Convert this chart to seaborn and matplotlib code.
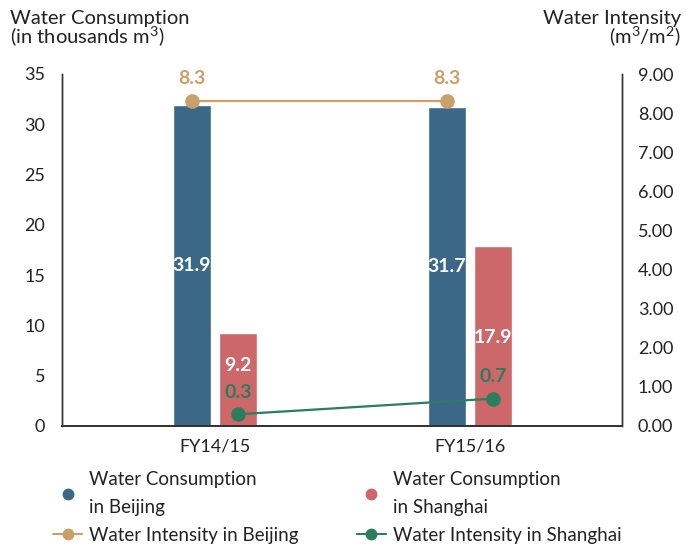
import matplotlib
matplotlib.use("Agg")
import matplotlib.pyplot as plt
import seaborn as sns
import pandas as pd
from matplotlib.lines import Line2D

# ---- data ----
years = ["FY14/15", "FY15/16"]
consumption_beijing = [31.9, 31.7]
consumption_shanghai = [9.2, 17.9]
intensity_beijing = [8.3, 8.3]
intensity_shanghai = [0.3, 0.7]
left_ticks = [0, 5, 10, 15, 20, 25, 30, 35]
right_ticks = [0, 1, 2, 3, 4, 5, 6, 7, 8, 9]

C_BJ = "#3C6887"
C_SH = "#CC676A"
C_GOLD = "#C9A068"
C_GREEN = "#2B7D5D"
FONT = ["Lato", "DejaVu Sans"]
TXT = "#222222"

sns.set_style("white")
plt.rcParams["font.family"] = FONT
plt.rcParams["mathtext.fontset"] = "custom"
plt.rcParams["mathtext.rm"] = "Lato"
plt.rcParams["mathtext.it"] = "Lato"
plt.rcParams["mathtext.default"] = "rm"

df = pd.DataFrame({
    "year": years * 2,
    "city": ["Beijing"] * 2 + ["Shanghai"] * 2,
    "value": consumption_beijing + consumption_shanghai,
})

fig = plt.figure(figsize=(6.91, 5.44), dpi=100)
ax = fig.add_axes([62 / 691, 118 / 544, 560 / 691, 352 / 544])

sns.barplot(data=df, x="year", y="value", hue="city", order=years,
            hue_order=["Beijing", "Shanghai"], palette=[C_BJ, C_SH],
            width=0.36, gap=0.17, dodge=True, legend=False, ax=ax,
            saturation=1)
ax.set_xlim(-0.6, 1.596)
ax.set_ylim(0, 35)
ax.set_yticks(left_ticks)
ax.set_yticklabels([str(t) for t in left_ticks])
ax.set_xlabel("")
ax.set_ylabel("")
ax.tick_params(axis="y", length=0, pad=12, labelsize=13, colors=TXT)
ax.tick_params(axis="x", length=0, pad=9, labelsize=13, colors=TXT)
ax.spines["top"].set_visible(False)
for s in ["left", "right", "bottom"]:
    ax.spines[s].set_color("#333333")
    ax.spines[s].set_linewidth(1.0)
ax.spines["bottom"].set_linewidth(1.3)

off = 0.09
# bar value labels
bj_label_y = [v / 2 for v in consumption_beijing]
sh_label_y = [6.0, 8.8]
for i in range(2):
    ax.text(i - off, bj_label_y[i], f"{consumption_beijing[i]:.1f}", color="white",
            ha="center", va="center", fontsize=14, fontweight="bold")
    ax.text(i + off, sh_label_y[i], f"{consumption_shanghai[i]:.1f}", color="white",
            ha="center", va="center", fontsize=14, fontweight="bold")

ax2 = ax.twinx()
x_bj = [i - off for i in range(len(years))]
x_sh = [i + off for i in range(len(years))]
sns.lineplot(x=x_bj, y=intensity_beijing, ax=ax2, color=C_GOLD, lw=1.6,
             marker="o", markersize=10.5, markeredgewidth=0, legend=False)
sns.lineplot(x=x_sh, y=intensity_shanghai, ax=ax2, color=C_GREEN, lw=1.6,
             marker="o", markersize=10.5, markeredgewidth=0, legend=False)
ax2.set_ylim(0, 9)
ax2.set_xlim(-0.6, 1.596)
ax2.set_yticks(right_ticks)
ax2.set_yticklabels([f"{t:.2f}" for t in right_ticks])
ax2.tick_params(axis="y", length=0, pad=11.5, labelsize=13, colors=TXT)
ax2.spines["top"].set_visible(False)
for s in ["left", "right", "bottom"]:
    ax2.spines[s].set_color("#333333")
    ax2.spines[s].set_linewidth(1.0)
ax2.spines["bottom"].set_linewidth(1.3)

for i in range(2):
    ax2.annotate(f"{intensity_beijing[i]:.1f}", (x_bj[i], intensity_beijing[i]),
                 xytext=(0, 16.5), textcoords="offset points", ha="center", va="center",
                 color=C_GOLD, fontsize=14, fontweight="bold")
    ax2.annotate(f"{intensity_shanghai[i]:.1f}", (x_sh[i], intensity_shanghai[i]),
                 xytext=(0, 16), textcoords="offset points", ha="center", va="center",
                 color=C_GREEN, fontsize=14, fontweight="bold")

# axis titles
fig.text(10 / 691, 1 - 10 / 544, "Water Consumption\n(in thousands m$^3$)", ha="left",
         va="top", fontsize=14.5, color=TXT, linespacing=0.87)
fig.text(1 - 10 / 691, 1 - 10 / 544, "Water Intensity\n(m$^3$/m$^2$)", ha="right",
         va="top", fontsize=14.5, color=TXT, linespacing=0.87, multialignment="right")

handles = [
    Line2D([], [], ls="none", marker="o", color=C_BJ, markersize=7.5),
    Line2D([], [], color=C_GOLD, marker="o", markersize=7.5, lw=1.5),
    Line2D([], [], ls="none", marker="o", color=C_SH, markersize=7.5),
    Line2D([], [], color=C_GREEN, marker="o", markersize=7.5, lw=1.5),
]
labels = ["Water Consumption\nin Beijing", "Water Intensity in Beijing",
          "Water Consumption\nin Shanghai", "Water Intensity in Shanghai"]
leg = fig.legend(handles, labels, loc="upper left", bbox_to_anchor=(53 / 691, 1 - 471 / 544),
                 ncol=2, frameon=False, fontsize=13.5, handlelength=1.55, handletextpad=0.37,
                 columnspacing=3.1, labelspacing=0.6, borderaxespad=0, borderpad=0,
                 labelcolor=TXT)
for t in leg.get_texts():
    t.set_linespacing(1.75)

fig.savefig("out.png", dpi=100)
